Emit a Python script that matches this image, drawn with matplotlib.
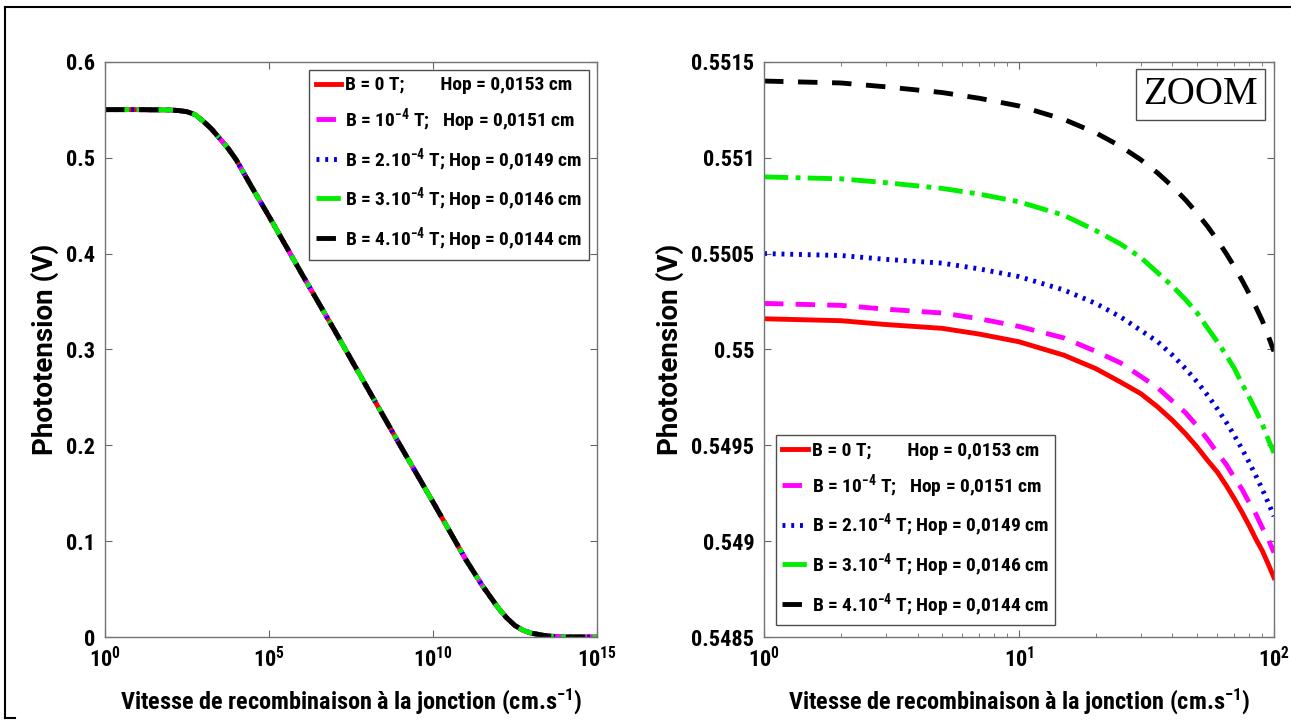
import numpy as np
import matplotlib
matplotlib.use("Agg")
import matplotlib.pyplot as plt
from matplotlib.lines import Line2D
from matplotlib.ticker import FixedLocator, FixedFormatter, NullLocator
from matplotlib import font_manager as fm

# police etroite en gras si disponible
noms = set(f.name for f in fm.fontManager.ttflist)
etroites = [n for n in ['Liberation Sans Narrow', 'DejaVu Sans Condensed', 'Roboto Condensed',
                        'Open Sans Condensed'] if n in noms]
police = etroites[0] if etroites else 'DejaVu Sans'

plt.rcParams['font.family'] = [police, 'DejaVu Sans']
plt.rcParams['font.stretch'] = 'condensed'
plt.rcParams['font.weight'] = 'bold'
plt.rcParams['axes.labelweight'] = 'bold'
plt.rcParams['mathtext.fontset'] = 'custom'
plt.rcParams['mathtext.rm'] = police + ':weight=bold:stretch=condensed'
plt.rcParams['mathtext.it'] = police + ':weight=bold:stretch=condensed'
plt.rcParams['mathtext.bf'] = police + ':weight=bold:stretch=condensed'
plt.rcParams['mathtext.default'] = 'rm'

# donnees
labels = ["B = 0 T;        Hop = 0,0153 cm",
          "B = 10$^{-4}$ T;   Hop = 0,0151 cm",
          "B = 2.10$^{-4}$ T; Hop = 0,0149 cm",
          "B = 3.10$^{-4}$ T; Hop = 0,0146 cm",
          "B = 4.10$^{-4}$ T; Hop = 0,0144 cm"]
couleurs = ['#ff0000', '#ff00ff', '#0000dd', '#00ee00', '#000000']
styles = ['-', (0, (4, 2.5)), (0, (0.6, 1.2)), (0, (5, 1.5, 1, 1.5)), (0, (4, 3))]

# courbe globale (toutes les courbes se superposent)
S_gauche = 10.0 ** np.array([0, 1, 2, 2.25, 2.5, 2.75, 3, 3.25, 3.5, 3.75, 4, 4.5, 5, 6, 7, 8, 9, 10,
                             11, 11.5, 12, 12.25, 12.5, 12.75, 13, 13.5, 14, 15])
V_gauche = np.array([0.5502, 0.5502, 0.5498, 0.5492, 0.548, 0.545, 0.538, 0.530, 0.520,
                     0.510, 0.498, 0.468, 0.439, 0.379, 0.320, 0.260, 0.200, 0.141,
                     0.081, 0.054, 0.030, 0.020, 0.012, 0.007, 0.004, 0.001, 0.0, 0.0])

# zoom
S_zoom = np.array([1, 2, 3, 5, 7, 10, 15, 20, 25, 30, 35, 40, 45, 50, 55, 60, 65,
                   70, 75, 80, 85, 90, 95, 100])
V_B0 = np.array([0.55016, 0.55015, 0.55013, 0.55011, 0.55008, 0.55004, 0.54997,
                 0.54990, 0.54983, 0.54977, 0.54970, 0.54963, 0.54956, 0.54949,
                 0.54942, 0.54936, 0.54929, 0.54922, 0.54915, 0.54908, 0.54901,
                 0.54895, 0.54888, 0.54881])
V_B1 = np.array([0.55024, 0.55023, 0.55021, 0.55019, 0.55016, 0.55012, 0.55006,
                 0.54999, 0.54993, 0.54986, 0.54980, 0.54973, 0.54967, 0.54960,
                 0.54953, 0.54946, 0.54940, 0.54933, 0.54927, 0.54920, 0.54914,
                 0.54907, 0.54901, 0.54894])
V_B2 = np.array([0.55050, 0.55049, 0.55047, 0.55045, 0.55042, 0.55038, 0.55031,
                 0.55024, 0.55017, 0.55010, 0.55004, 0.54997, 0.54990, 0.54983,
                 0.54976, 0.54969, 0.54962, 0.54955, 0.54948, 0.54941, 0.54934,
                 0.54927, 0.54920, 0.54913])
V_B3 = np.array([0.55090, 0.55089, 0.55087, 0.55084, 0.55081, 0.55077, 0.55070,
                 0.55062, 0.55055, 0.55048, 0.55040, 0.55033, 0.55026, 0.55019,
                 0.55011, 0.55004, 0.54997, 0.54990, 0.54982, 0.54975, 0.54968,
                 0.54961, 0.54953, 0.54946])
V_B4 = np.array([0.55140, 0.55139, 0.55137, 0.55134, 0.55131, 0.55127, 0.55120,
                 0.55113, 0.55106, 0.55099, 0.55092, 0.55085, 0.55078, 0.55071,
                 0.55064, 0.55057, 0.55050, 0.55043, 0.55036, 0.55029, 0.55022,
                 0.55015, 0.55007, 0.54999])
V_zoom = [V_B0, V_B1, V_B2, V_B3, V_B4]

yt_gauche = [0, 0.1, 0.2, 0.3, 0.4, 0.5, 0.6]
yt_gauche_lab = ['0', '0.1', '0.2', '0.3', '0.4', '0.5', '0.6']
yt_zoom = [0.5485, 0.549, 0.5495, 0.55, 0.5505, 0.551, 0.5515]
yt_zoom_lab = ['0.5485', '0.549', '0.5495', '0.55', '0.5505', '0.551', '0.5515']

fig = plt.figure(figsize=(12.91, 7.28), dpi=100)
ax1 = fig.add_axes([0.0813, 0.125, 0.381, 0.790])
ax2 = fig.add_axes([0.5918, 0.125, 0.395, 0.790])

for i in range(5):
    ax1.plot(S_gauche, V_gauche, linestyle=styles[i], color=couleurs[i], lw=3.5, label=labels[i])
    ax2.plot(S_zoom, V_zoom[i], linestyle=styles[i], color=couleurs[i], lw=3.5, label=labels[i])

xlab = "Vitesse de recombinaison à la jonction (cm.s$^{-1}$)"
for ax in [ax1, ax2]:
    ax.set_xscale('log')
    ax.set_xlabel(xlab, fontsize=17.5, labelpad=10)
    ax.set_ylabel("Phototension (V)", fontsize=20, labelpad=5,
                  family=['Roboto', 'DejaVu Sans'], fontstretch='normal')
    ax.tick_params(which='both', direction='in', top=True, right=True,
                   labelsize=16, color='0.4', pad=7)
    ax.tick_params(which='major', length=5)
    ax.tick_params(which='minor', length=3)
    for sp in ax.spines.values():
        sp.set_color('0.45')
        sp.set_linewidth(1.0)

ax1.set_xlim(1, 1e15)
ax1.set_ylim(0, 0.6)
ax1.xaxis.set_major_locator(FixedLocator([1, 1e5, 1e10, 1e15]))
ax1.xaxis.set_major_formatter(FixedFormatter(['$10^{0}$', '$10^{5}$', '$10^{10}$', '$10^{15}$']))
ax1.xaxis.set_minor_locator(NullLocator())
ax1.yaxis.set_major_locator(FixedLocator(yt_gauche))
ax1.yaxis.set_major_formatter(FixedFormatter(yt_gauche_lab))

ax2.set_xlim(1, 100)
ax2.set_ylim(0.5485, 0.5515)
ax2.xaxis.set_major_locator(FixedLocator([1, 10, 100]))
ax2.xaxis.set_major_formatter(FixedFormatter(['$10^{0}$', '$10^{1}$', '$10^{2}$']))
ax2.yaxis.set_major_locator(FixedLocator(yt_zoom))
ax2.yaxis.set_major_formatter(FixedFormatter(yt_zoom_lab))

leg_kw = dict(fontsize=14, frameon=True, fancybox=False, framealpha=1,
              edgecolor='0.3', handlelength=1.3, handletextpad=0.2,
              labelspacing=0.6, borderpad=0.35)
l1 = ax1.legend(loc='upper right', borderaxespad=0.4, **leg_kw)
l2 = ax2.legend(loc='lower left', borderaxespad=0.6, **leg_kw)
for l in [l1, l2]:
    l.get_frame().set_linewidth(1.0)

ax2.text(0.968, 0.975, "ZOOM", transform=ax2.transAxes, ha='right', va='top',
         fontsize=28, family='Liberation Serif', fontweight='normal', fontstretch='normal',
         bbox=dict(boxstyle='square,pad=0.18', fc='white', ec='0.3', lw=1.0))

# cadre du document
fig.add_artist(Line2D([0.004, 1.0], [0.990, 0.990], color='black', lw=1.5, transform=fig.transFigure))
fig.add_artist(Line2D([0.004, 0.004], [0.990, 0.014], color='black', lw=1.5, transform=fig.transFigure))
fig.add_artist(Line2D([0.004, 0.012], [0.014, 0.014], color='black', lw=1.5, transform=fig.transFigure))

fig.savefig("out.png", dpi=100)
